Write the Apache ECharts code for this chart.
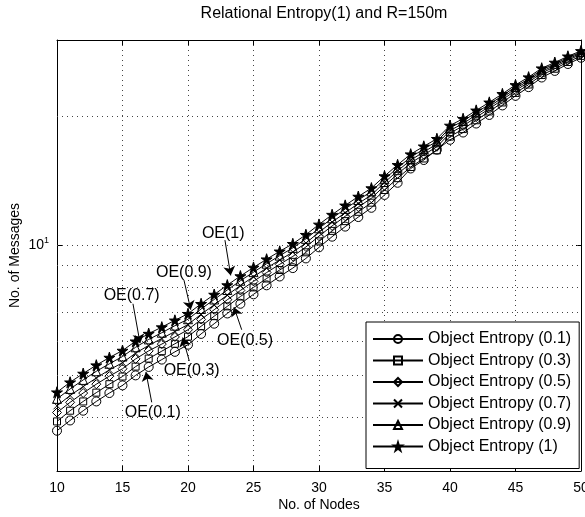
<!DOCTYPE html>
<html>
<head>
<meta charset="utf-8">
<script src="https://cdn.jsdelivr.net/npm/echarts@6/dist/echarts.min.js"></script>
<style>html,body{margin:0;padding:0;background:#fff}#c{width:585px;height:517px}</style>
</head>
<body>
<div id="c"></div>
<script>
const nodes = [10,11,12,13,14,15,16,17,18,19,20,21,22,23,24,25,26,27,28,29,30,31,32,33,34,35,36,37,38,39,40,41,42,43,44,45,46,47,48,49,50];
const oe01 = [3.72,3.93,4.14,4.35,4.55,4.74,5.00,5.23,5.44,5.67,5.89,6.24,6.59,6.96,7.33,7.71,8.09,8.48,8.87,9.34,9.91,10.49,11.07,11.65,12.24,13.11,13.99,15.1,15.8,16.7,17.6,18.3,19.2,20.1,21.15,22.26,23.32,24.55,25.43,26.39,27.29];
const oe03 = [3.91,4.14,4.35,4.56,4.77,4.97,5.24,5.47,5.69,5.92,6.15,6.50,6.86,7.23,7.62,8.00,8.39,8.78,9.17,9.65,10.23,10.82,11.40,11.98,12.58,13.46,14.34,15.22,15.93,16.64,17.91,18.64,19.54,20.48,21.49,22.61,23.65,24.88,25.73,26.67,27.56];
const oe05 = [4.10,4.33,4.55,4.77,4.98,5.18,5.46,5.70,5.91,6.14,6.38,6.74,7.10,7.49,7.87,8.26,8.66,9.05,9.44,9.93,10.52,11.11,11.70,12.29,12.88,13.77,14.66,15.55,16.25,16.96,18.24,18.96,19.86,20.78,21.80,22.91,23.94,25.16,26.00,26.93,27.79];
const oe07 = [4.25,4.49,4.71,4.93,5.15,5.35,5.63,5.87,6.09,6.32,6.56,6.93,7.29,7.68,8.08,8.47,8.87,9.26,9.66,10.14,10.74,11.34,11.92,12.52,13.11,14.01,14.91,15.79,16.50,17.20,18.50,19.20,20.11,21.02,22.04,23.14,24.16,25.37,26.21,27.12,27.96];
const oe09 = [4.41,4.65,4.88,5.11,5.32,5.53,5.81,6.06,6.28,6.52,6.75,7.13,7.50,7.89,8.29,8.68,9.08,9.48,9.88,10.37,10.97,11.57,12.17,12.76,13.36,14.26,15.16,16.04,16.75,17.46,18.76,19.47,20.36,21.27,22.28,23.37,24.38,25.59,26.41,27.31,28.13];
const oe1  = [4.57,4.82,5.05,5.28,5.50,5.71,6.00,6.25,6.47,6.71,6.95,7.33,7.70,8.10,8.50,8.90,9.30,9.70,10.1,10.6,11.2,11.8,12.4,13.0,13.6,14.5,15.4,16.3,17.0,17.7,19.0,19.7,20.6,21.5,22.5,23.6,24.6,25.8,26.6,27.5,28.3];
const seriesNames = ['Object Entropy (0.1)','Object Entropy (0.3)','Object Entropy (0.5)','Object Entropy (0.7)','Object Entropy (0.9)','Object Entropy (1)'];
const xTicks = [10,15,20,25,30,35,40,45,50];
const yGrid = [4,5,6,7,8,9,10,20];
const annText = ['OE(0.1)','OE(0.3)','OE(0.5)','OE(0.7)','OE(0.9)','OE(1)'];
const annLabel = [[17.31,4.10],[20.28,5.12],[24.35,6.03],[15.70,7.67],[19.69,8.64],[22.69,10.66]];
const annFrom  = [[17.23,4.33],[20.10,5.40],[24.10,6.38],[15.80,7.33],[19.69,8.32],[22.82,10.30]];
const annTo    = [[16.79,5.09],[19.60,6.12],[23.51,7.20],[16.34,5.94],[20.21,7.10],[23.26,8.53]];

const symbols = ['circle','rect','diamond','path://M0,0L10,10M10,0L0,10','triangle',
  'path://M50,0L61,35L98,35L68,57L79,91L50,70L21,91L32,57L2,35L39,35Z'];
const symSizes = [9,7,9,7,9,11];
const fills = ['rgba(0,0,0,0)','rgba(0,0,0,0)','rgba(0,0,0,0)','rgba(0,0,0,0)','rgba(0,0,0,0)','#000'];
const allData = [oe01,oe03,oe05,oe07,oe09,oe1];
const FONT = '"Liberation Sans", Arial, Helvetica, sans-serif';

const series = allData.map((vals, i) => ({
  name: seriesNames[i],
  type: 'line',
  data: nodes.map((x, j) => [x, vals[j]]),
  symbol: symbols[i],
  symbolSize: symSizes[i],
  showAllSymbol: true,
  lineStyle: { color: '#000', width: 1 },
  itemStyle: { color: fills[i], borderColor: '#000', borderWidth: 1 },
  emphasis: { disabled: true },
  z: 3
}));

series[0].markLine = {
  silent: true, z: 1, symbol: ['none','none'],
  label: { show: false },
  lineStyle: { color: '#444', type: [1,4], width: 1 },
  data: yGrid.map(v => ({ yAxis: v }))
};
series[5].markLine = {
  silent: true, z: 6,
  label: { show: false },
  symbol: ['none','arrow'], symbolSize: 9,
  lineStyle: { color: '#000', type: 'solid', width: 1 },
  data: annFrom.map((p, i) => [{ coord: p }, { coord: annTo[i] }])
};
series[5].markPoint = {
  silent: true, z: 6,
  symbol: 'circle', symbolSize: 0,
  label: { show: true, position: 'inside', color: '#000', fontSize: 16, fontFamily: FONT },
  data: annLabel.map((p, i) => ({ coord: p, value: annText[i], label: { formatter: annText[i] } }))
};

const chart = echarts.init(document.getElementById('c'));
chart.setOption({
  animation: false,
  backgroundColor: '#fff',
  title: {
    text: 'Relational Entropy(1) and R=150m',
    left: 319, top: 1, textAlign: 'center',
    textStyle: { fontSize: 16, fontWeight: 'normal', color: '#000', fontFamily: FONT }
  },
  grid: { left: 57, right: 4, top: 40, bottom: 46, outerBoundsMode: 'none', containLabel: false },
  legend: {
    data: seriesNames,
    orient: 'vertical',
    left: 366, top: 322,
    padding: [9, 8, 14, 6],
    itemWidth: 50, itemHeight: 10, itemGap: 5.5,
    backgroundColor: '#fff', borderColor: '#000', borderWidth: 1,
    textStyle: { fontSize: 16, color: '#000', fontFamily: FONT, lineHeight: 16 }
  },
  xAxis: [{
    type: 'value', min: 10, max: 50, interval: 5,
    name: 'No. of Nodes', nameLocation: 'middle', nameGap: 27, nameMoveOverlap: false,
    nameTextStyle: { fontSize: 14, color: '#000', fontFamily: FONT },
    axisLine: { onZero: false, lineStyle: { color: '#000', width: 1 } },
    axisTick: { inside: true, length: 5, lineStyle: { color: '#000' } },
    axisLabel: { fontSize: 14, color: '#000', fontFamily: FONT, margin: 10 },
    splitLine: { show: true, lineStyle: { color: '#444', type: [1,4], width: 1 } }
  }, {
    type: 'value', min: 10, max: 50, interval: 5, position: 'top',
    axisLine: { onZero: false, lineStyle: { color: '#000', width: 1 } },
    axisTick: { inside: true, length: 5, lineStyle: { color: '#000' } },
    axisLabel: { show: false }, splitLine: { show: false }
  }],
  yAxis: [{
    type: 'log', logBase: 10, min: 3, max: 30,
    name: 'No. of Messages', nameLocation: 'middle', nameGap: 35, nameMoveOverlap: false,
    nameTextStyle: { fontSize: 14, color: '#000', fontFamily: FONT },
    axisLine: { show: true, lineStyle: { color: '#000', width: 1 } },
    axisTick: { inside: true, length: 5, lineStyle: { color: '#000' } },
    axisLabel: {
      margin: 8, showMinLabel: false, showMaxLabel: false,
      formatter: v => Math.abs(v - 10) < 1e-6 ? '{b|10}{s|1}' : '',
      rich: {
        b: { fontSize: 14, color: '#000', fontFamily: FONT },
        s: { fontSize: 9, color: '#000', fontFamily: FONT, padding: [0, 0, 10, 0] }
      }
    },
    splitLine: { show: false }
  }, {
    type: 'log', logBase: 10, min: 3, max: 30, position: 'right',
    axisLine: { show: true, lineStyle: { color: '#000', width: 1 } },
    axisTick: { inside: true, length: 5, lineStyle: { color: '#000' } },
    axisLabel: { show: false }, splitLine: { show: false }
  }],
  series: series
});
</script>
</body>
</html>
